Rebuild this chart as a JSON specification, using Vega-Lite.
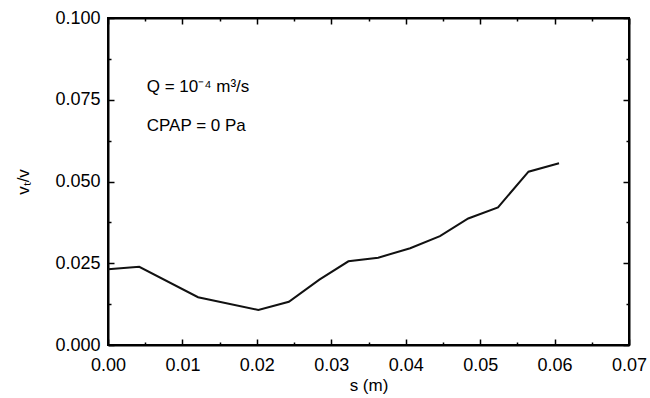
{
  "$schema": "https://vega.github.io/schema/vega-lite/v6.json",
  "autosize": {"type": "none"},
  "padding": {"left": 108, "top": 18, "right": 21, "bottom": 53},
  "width": 521,
  "height": 327,
  "background": "white",
  "config": {
    "view": {"stroke": "black", "strokeWidth": 2},
    "font": "Liberation Sans",
    "axis": {
      "domainColor": "black", "domainWidth": 2, "tickColor": "black", "tickWidth": 1.5,
      "labelFont": "Liberation Sans", "labelFontSize": 18, "labelColor": "black",
      "titleFont": "Liberation Sans", "titleFontSize": 17, "titleFontWeight": "normal", "titleColor": "black",
      "grid": false
    }
  },
  "data": {"values": [
    {"s": 0.0, "v": 0.0232},
    {"s": 0.0042, "v": 0.0239},
    {"s": 0.0121, "v": 0.0146},
    {"s": 0.0202, "v": 0.0107},
    {"s": 0.0243, "v": 0.0132},
    {"s": 0.0284, "v": 0.0200},
    {"s": 0.0323, "v": 0.0256},
    {"s": 0.0363, "v": 0.0267},
    {"s": 0.0406, "v": 0.0296},
    {"s": 0.0446, "v": 0.0333},
    {"s": 0.0484, "v": 0.0387},
    {"s": 0.0524, "v": 0.0421},
    {"s": 0.0565, "v": 0.0530},
    {"s": 0.0606, "v": 0.0556}
  ]},
  "layer": [
    {
      "mark": {"type": "line", "color": "#111", "strokeWidth": 2},
      "encoding": {
        "x": {"field": "s", "type": "quantitative", "scale": {"domain": [0, 0.07], "nice": false},
          "axis": {"orient": "bottom", "title": "s (m)", "titlePadding": 3,
            "values": [0,0.005,0.01,0.015,0.02,0.025,0.03,0.035,0.04,0.045,0.05,0.055,0.06,0.065,0.07],
            "labelExpr": "round(datum.value*200)%2==0 ? format(datum.value,'.2f') : ''",
            "tickSize": {"condition": {"test": "round(datum.value*200)%2==0", "value": -6}, "value": -3},
            "labelPadding": 17, "labelFlush": false}},
        "y": {"field": "v", "type": "quantitative", "scale": {"domain": [0, 0.1], "nice": false},
          "axis": {"orient": "left", "title": "vₜ/v", "titlePadding": 22,
            "values": [0,0.0125,0.025,0.0375,0.05,0.0625,0.075,0.0875,0.1],
            "labelExpr": "round(datum.value*80)%2==0 ? format(datum.value,'.3f') : ''",
            "tickSize": {"condition": {"test": "round(datum.value*80)%2==0", "value": -6}, "value": -3},
            "labelPadding": 14, "labelFlush": false}}
      }
    },
    {
      "mark": {"type": "line", "strokeOpacity": 0},
      "encoding": {
        "x": {"field": "s", "type": "quantitative",
          "axis": {"orient": "top", "title": null, "labels": false,
            "values": [0,0.005,0.01,0.015,0.02,0.025,0.03,0.035,0.04,0.045,0.05,0.055,0.06,0.065,0.07],
            "tickSize": {"condition": {"test": "round(datum.value*200)%2==0", "value": -6}, "value": -3}}},
        "y": {"field": "v", "type": "quantitative",
          "axis": {"orient": "right", "title": null, "labels": false,
            "values": [0,0.0125,0.025,0.0375,0.05,0.0625,0.075,0.0875,0.1],
            "tickSize": {"condition": {"test": "round(datum.value*80)%2==0", "value": -6}, "value": -3}}}
      }
    },
    {
      "data": {"values": [
        {"s": 0.0052, "v": 0.0789, "label": "Q = 10⁻⁴ m³/s"},
        {"s": 0.0052, "v": 0.0670, "label": "CPAP = 0 Pa"}
      ]},
      "mark": {"type": "text", "align": "left", "baseline": "middle", "fontSize": 17, "font": "Liberation Sans", "color": "black"},
      "encoding": {
        "x": {"field": "s", "type": "quantitative", "axis": null},
        "y": {"field": "v", "type": "quantitative", "axis": null},
        "text": {"field": "label"}
      }
    }
  ],
  "resolve": {"axis": {"x": "independent", "y": "independent"}}
}
